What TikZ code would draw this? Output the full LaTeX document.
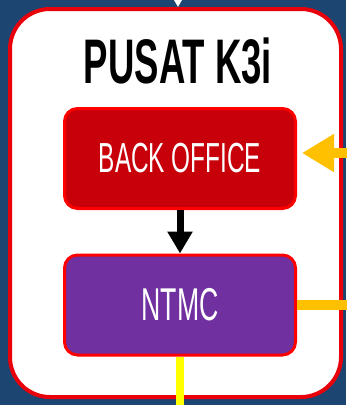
\documentclass[tikz,border=0pt]{standalone}
\usepackage{fontspec}
\usepackage{tikz}
\usetikzlibrary{arrows.meta}
\newfontfamily\condfont[FakeStretch=0.58]{Liberation Sans}
\definecolor{navy}{HTML}{1C4571}
\definecolor{framered}{HTML}{E8000B}
\definecolor{officered}{HTML}{C8000A}
\definecolor{ntmcpurple}{HTML}{7030A0}
\definecolor{linkorange}{HTML}{FFC000}
\definecolor{linkyellow}{HTML}{FFFF00}
\tikzstyle{panel} = [rectangle, draw=framered, fill=white, line width=4pt, rounded corners=40pt, minimum width=331pt, minimum height=388pt]
\tikzstyle{heading} = [text=black, inner sep=0pt, font=\condfont\bfseries\fontsize{63}{63}\selectfont]
\tikzstyle{unitbox} = [rectangle, draw=red, line width=3pt, rounded corners=13pt, text=white, text centered, minimum width=231pt, minimum height=100pt]
\tikzstyle{connector} = [line width=7pt, -{Triangle[width=24pt,length=22pt]}]
\tikzstyle{feed} = [line width=10pt]

\begin{document}
\begin{tikzpicture}[x=1pt, y=1pt]
            \useasboundingbox (0,0) rectangle (346,-405);
            \fill [navy] (0,0) rectangle (346,-405);
            \node (panel) [panel] at (175.5,-203) {};
            \node (title) [heading] at (178,-61) {PUSAT K3i};
            \node (back) [unitbox, fill=officered, node distance=97.5pt, below of = title, xshift=2pt, font=\condfont\fontsize{42}{42}\selectfont] {BACK OFFICE};
            \node (ntmc) [unitbox, fill=ntmcpurple, node distance=146.5pt, below of = back, font=\condfont\fontsize{46}{46}\selectfont] {NTMC};
            \coordinate (entry) at (178,3);
            \coordinate (inlink) at (352,-153);
            \coordinate (outlink) at (352,-306);
            \coordinate (downlink) at (180,-410);
            \draw [draw=white, line width=2pt, -{Triangle[width=11pt,length=10pt]}] (entry) -- (entry |- panel.north);
            \draw [connector] (back) -- (ntmc);
            \draw [feed, draw=linkorange, fill=linkorange, -{Triangle[width=36pt,length=32pt]}, shorten >=5pt] (inlink) -- (inlink -| back.east);
            \draw [feed, draw=linkorange] (ntmc.east) -- (ntmc.east -| outlink);
            \draw [feed, line width=8pt, draw=linkyellow] (ntmc.south) -- (ntmc.south |- downlink);
        \end{tikzpicture}
\end{document}
